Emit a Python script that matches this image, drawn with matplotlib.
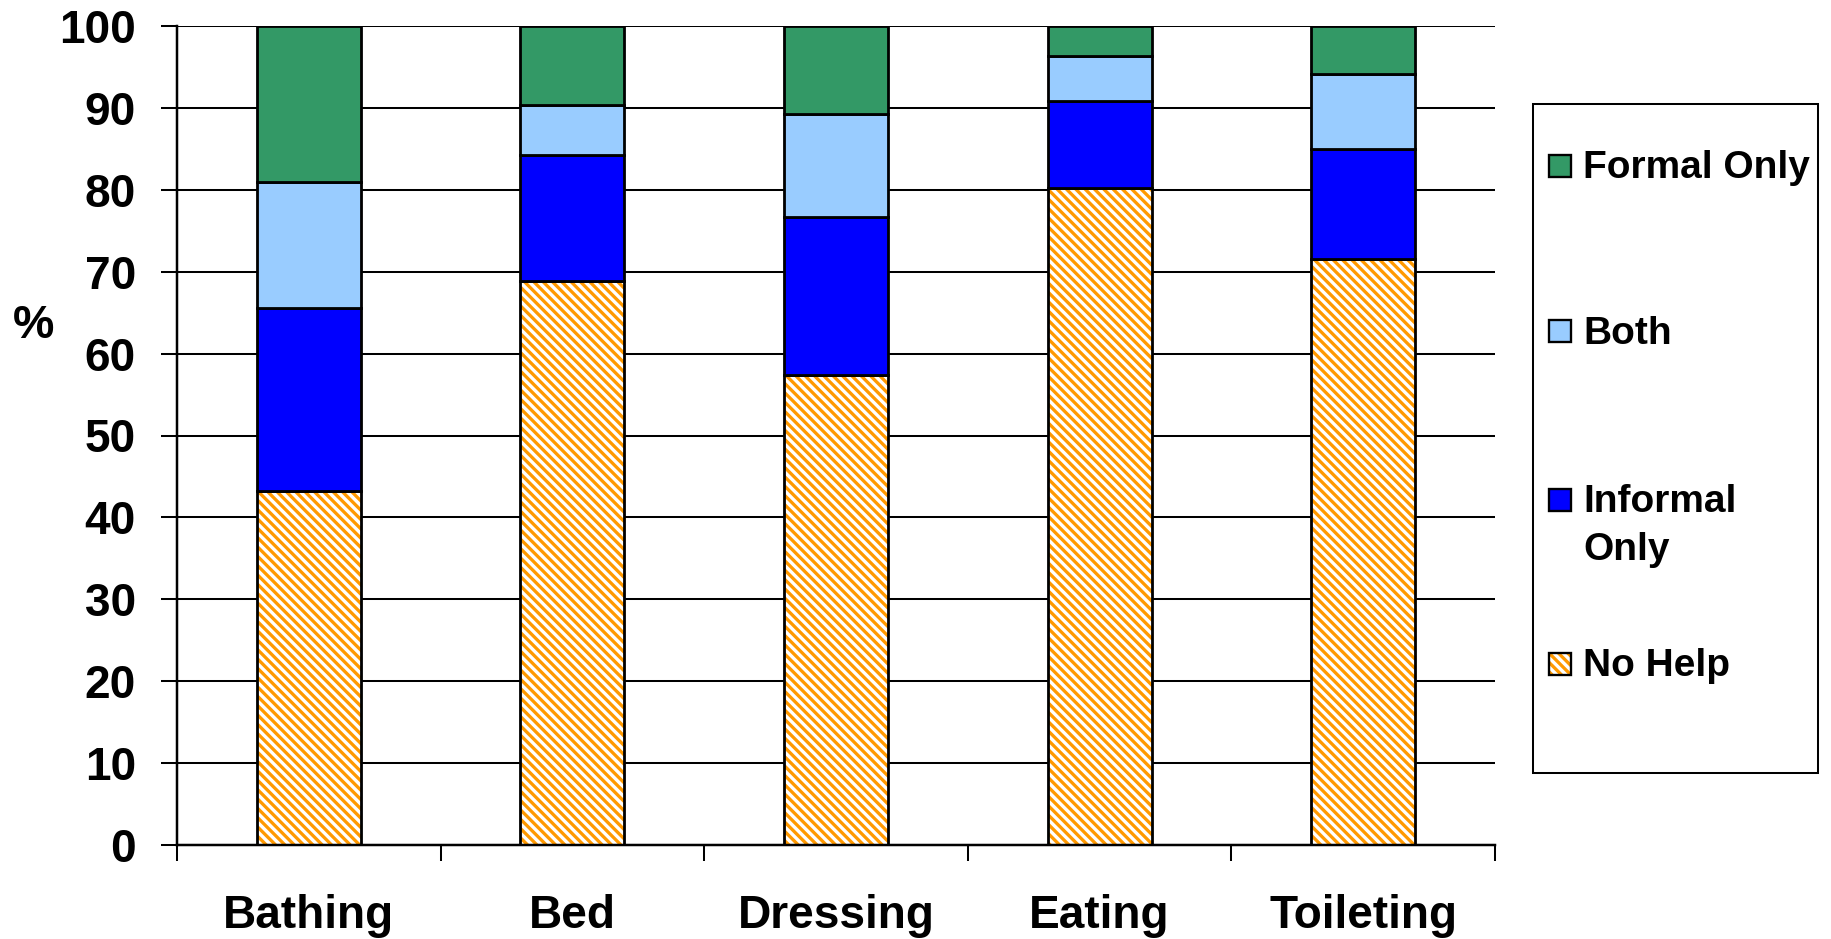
import matplotlib
matplotlib.use("Agg")
import matplotlib.pyplot as plt
from matplotlib.patches import Rectangle
import numpy as np

# --- data -----------------------------------------------------------------
categories = ["Bathing", "Bed", "Dressing", "Eating", "Toileting"]
no_help = [43.2, 68.9, 57.4, 80.2, 71.5]
informal_only = [22.4, 15.4, 19.3, 10.7, 13.5]
both = [15.3, 6.1, 12.6, 5.4, 9.1]
formal_only = [19.1, 9.6, 10.7, 3.7, 5.9]
y_ticks = list(range(0, 101, 10))

series_names = ["No Help", "Informal\nOnly", "Both", "Formal Only"]

# --- style ----------------------------------------------------------------
GREEN = "#339966"
LIGHT_BLUE = "#99CCFF"
BLUE = "#0000FF"
ORANGE = "#FF9900"
HATCH = "\\" * 4

W, H, DPI = 1831, 939, 112
plt.rcParams["font.family"] = ["Liberation Sans", "DejaVu Sans"]
plt.rcParams["font.weight"] = "bold"
plt.rcParams["hatch.linewidth"] = 2.1

fig = plt.figure(figsize=(W / DPI, H / DPI), dpi=DPI)
fig.patch.set_facecolor("white")


def fx(px):
    return px / W


def fy(py):
    return 1 - py / H


ax = fig.add_axes([fx(177), fy(845), fx(1495 - 177), (845 - 26) / H])

x = np.arange(len(categories))
bar_w = 0.395
edge_lw = 1.8

# hatched bottom segment: orange hatch layer, then a black outline on top
ax.bar(x, no_help, bar_w, facecolor="white", edgecolor=ORANGE,
       hatch=HATCH, linewidth=0, zorder=2)
ax.bar(x, no_help, bar_w, fill=False, edgecolor="black",
       linewidth=edge_lw, zorder=3)

bottom = np.array(no_help, dtype=float)
for vals, col in [(informal_only, BLUE), (both, LIGHT_BLUE), (formal_only, GREEN)]:
    ax.bar(x, vals, bar_w, bottom=bottom, color=col, edgecolor="black",
           linewidth=edge_lw, zorder=3)
    bottom = bottom + np.array(vals)

# --- axes -----------------------------------------------------------------
ax.set_xlim(-0.5, len(categories) - 0.5)
ax.set_ylim(0, 100)
ax.set_yticks(y_ticks)
ax.set_yticklabels([str(v) for v in y_ticks], fontsize=29.6, fontweight="bold")
ax.set_xticks(x)
ax.set_xticklabels(categories, fontsize=29.6, fontweight="bold")
ax.set_xticks(np.arange(-0.5, len(categories)), minor=True)

ax.tick_params(axis="x", which="major", length=0, pad=31.5)
ax.tick_params(axis="x", which="minor", length=10.5, width=1.3,
               direction="out", color="black")
ax.tick_params(axis="y", which="major", length=10.5, width=1.3,
               direction="out", color="black", pad=16)

ax.grid(axis="y", color="black", linewidth=1.3, zorder=0)
ax.set_axisbelow(True)
for side in ("top", "right"):
    ax.spines[side].set_visible(False)
for side in ("left", "bottom"):
    ax.spines[side].set_linewidth(1.6)
    ax.spines[side].set_color("black")
    ax.spines[side].set_zorder(4)

ax.set_ylabel("%", rotation=0, fontsize=30, fontweight="bold",
              ha="center", va="center")
ax.yaxis.set_label_coords(-0.109, 0.634)

# --- legend box -------------------------------------------------------------
frame = Rectangle((fx(1533), fy(773)), fx(1818 - 1533), (773 - 104) / H,
                  transform=fig.transFigure, facecolor="white",
                  edgecolor="black", linewidth=1.3, zorder=5)
fig.add_artist(frame)

# (label, colour, hatch, swatch centre y, baseline y of the last text line)
legend_rows = [
    ("Formal Only", GREEN, None, 166, 178.5),
    ("Both", LIGHT_BLUE, None, 331, 343.5),
    (series_names[1], BLUE, None, 500, 560.5),
    (series_names[0], "white", HATCH, 664, 676.5),
]
sw = 22
for label, col, hatch, cy, base in legend_rows:
    x0, y0 = fx(1548.5), fy(cy + sw / 2)
    if hatch:
        fig.add_artist(Rectangle((x0, y0), fx(sw), sw / H,
                                 transform=fig.transFigure, facecolor="white",
                                 edgecolor=ORANGE, hatch=hatch, linewidth=0,
                                 zorder=6))
        fig.add_artist(Rectangle((x0, y0), fx(sw), sw / H,
                                 transform=fig.transFigure, fill=False,
                                 edgecolor="black", linewidth=1.5, zorder=7))
    else:
        fig.add_artist(Rectangle((x0, y0), fx(sw), sw / H,
                                 transform=fig.transFigure, facecolor=col,
                                 edgecolor="black", linewidth=1.5, zorder=7))
    fig.text(fx(1583), fy(base), label, fontsize=25, fontweight="bold",
             ha="left", va="baseline", linespacing=1.45, zorder=8)

fig.savefig("out.png", dpi=DPI, facecolor="white")
